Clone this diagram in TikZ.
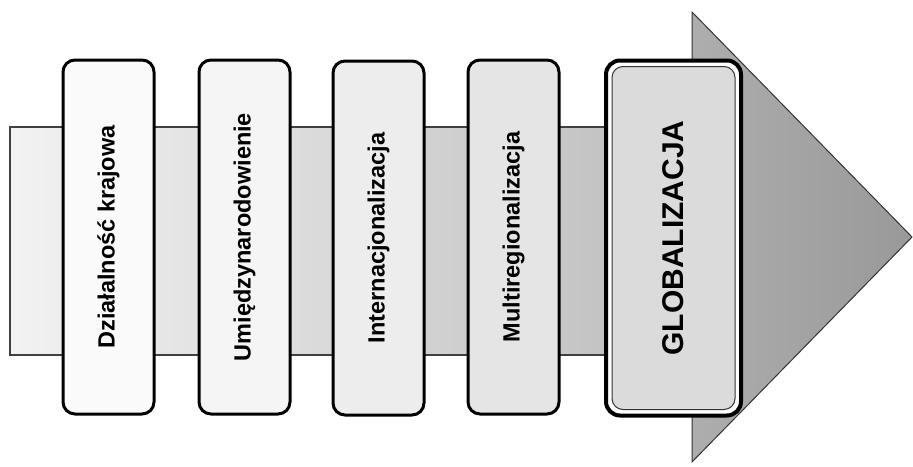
\documentclass[tikz,border=0pt]{standalone}
\usepackage{fontspec}
\setmainfont{Liberation Sans}
\usepackage{graphicx}
\begin{document}
\begin{tikzpicture}[x=1pt,y=-1pt,
  stage/.style={draw=black, line width=3pt, rounded corners=12pt,
    minimum width=91pt, minimum height=354pt, inner sep=0pt,
    font=\bfseries\fontsize{23.5}{23.5}\selectfont},
  finalouter/.style={draw=black, line width=4pt, rounded corners=14pt,
    fill=white, minimum width=135pt, minimum height=355pt, inner sep=0pt},
  finalinner/.style={draw=black!80, line width=1pt, rounded corners=11pt,
    fill=black!14, minimum width=123pt, minimum height=343pt, inner sep=0pt,
    font=\bfseries\fontsize{30}{30}\selectfont}]
  \useasboundingbox (0,0) rectangle (913,466);

  % arrow shaft and head
  \path[draw=black!75, line width=1.8pt, left color=black!5, right color=black!26]
    (10,127) rectangle (692,355);
  \path[draw=black!80, line width=1pt, left color=black!32, right color=black!40]
    (692,12) -- (912,237) -- (692,462) -- cycle;

  % stages
  \node[stage, fill=black!2] (s1) at (108.5,237) {\rotatebox{90}{Działalność krajowa}};
  \node[stage, fill=black!4] (s2) at (244.5,237) {\rotatebox{90}{Umiędzynarodowienie}};
  \node[stage, fill=black!7] (s3) at (378.5,238) {\rotatebox{90}{Internacjonalizacja}};
  \node[stage, fill=black!10] (s4) at (513.5,237) {\rotatebox{90}{Multiregionalizacja}};
  \node[finalouter] (s5) at (673.5,238) {};
  \node[finalinner] (s5in) at (s5.center) {\rotatebox{90}{GLOBALIZACJA}};
\end{tikzpicture}
\end{document}
